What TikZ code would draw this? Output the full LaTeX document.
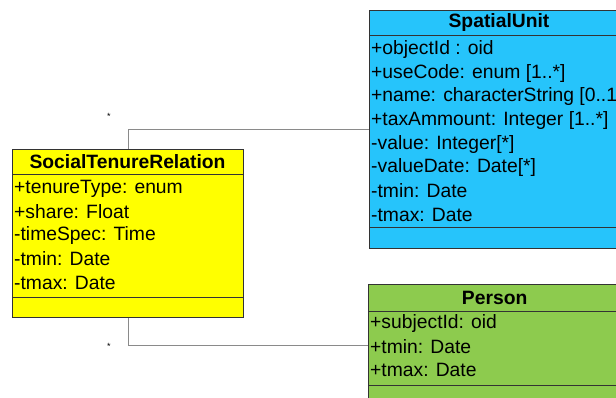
\documentclass[tikz,border=0pt]{standalone}
\usepackage{fontspec}
\setmainfont{Liberation Sans}
\definecolor{sublue}{HTML}{26C4FB}
\definecolor{stryel}{HTML}{FFFF00}
\definecolor{pergreen}{HTML}{8DCB4E}
\definecolor{edge}{HTML}{333333}
\definecolor{conngray}{HTML}{8A8A8A}
\tikzset{
  classbox/.style={draw=edge, line width=1pt, inner sep=0pt, anchor=north west},
  divline/.style={draw=edge, line width=1pt},
  attr/.style={anchor=west, inner sep=0pt, font=\fontsize{19.3}{22}\selectfont},
  title/.style={anchor=center, inner sep=0pt, font=\fontsize{19.3}{22}\selectfont\bfseries},
  conn/.style={draw=conngray, line width=1pt},
  mult/.style={inner sep=0pt, font=\fontsize{9}{10}\selectfont}
}
\begin{document}
\begin{tikzpicture}[x=1pt,y=-1pt]
\useasboundingbox (0,0) rectangle (616,398);
\clip (0,0) rectangle (616,398);
\fill[white] (0,0) rectangle (616,398);

% SpatialUnit
\node[classbox, fill=sublue, minimum width=260pt, minimum height=238pt] (su) at (369,10) {};
\draw[divline] (369,36) -- (629,36);
\draw[divline] (369,228) -- (629,228);
\node[title] (sut) at (499,23) {SpatialUnit};
\node[attr] (su1) at (371,50) {+objectId : oid};
\node[attr] (su2) at (371,73.5) {+useCode: enum [1..*]};
\node[attr] (su3) at (371,97) {+name: characterString [0..1]};
\node[attr] (su4) at (371,120.5) {+taxAmmount: Integer [1..*]};
\node[attr] (su5) at (371,144.5) {-value: Integer[*]};
\node[attr] (su6) at (371,168) {-valueDate: Date[*]};
\node[attr] (su7) at (371,191) {-tmin: Date};
\node[attr] (su8) at (371,214.5) {-tmax: Date};

% SocialTenureRelation
\node[classbox, fill=stryel, minimum width=231pt, minimum height=168pt] (str) at (12,149) {};
\draw[divline] (12,175) -- (243,175);
\draw[divline] (12,297) -- (243,297);
\node[title] (strt) at (127.5,162) {SocialTenureRelation};
\node[attr] (str1) at (14,188.5) {+tenureType: enum};
\node[attr] (str2) at (14,212) {+share: Float};
\node[attr] (str3) at (14,236) {-timeSpec: Time};
\node[attr] (str4) at (14,259) {-tmin: Date};
\node[attr] (str5) at (14,282.5) {-tmax: Date};

% Person
\node[classbox, fill=pergreen, minimum width=253pt, minimum height=122pt] (per) at (368,284) {};
\draw[divline] (368,311) -- (621,311);
\draw[divline] (368,385) -- (621,385);
\node[title] (pert) at (494.7,297.5) {Person};
\node[attr] (per1) at (370,323.5) {+subjectId: oid};
\node[attr] (per2) at (370,347) {+tmin: Date};
\node[attr] (per3) at (370,370) {+tmax: Date};

% connectors
\draw[conn] ([xshift=116pt]str.north west) |- (su.west);
\draw[conn] ([xshift=116pt]str.south west) |- (per.west);

% multiplicities
\node[mult] (m1) at (109,116) {*};
\node[mult] (m2) at (109,346) {*};
\end{tikzpicture}
\end{document}
